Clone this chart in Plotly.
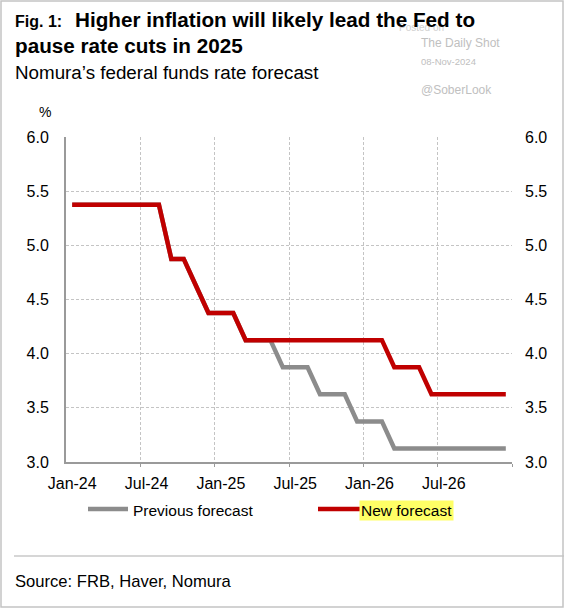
import plotly.graph_objects as go
import pandas as pd

# ---- data ----
months = [d.strftime("%b-%y") for d in pd.date_range("2024-01-01", "2026-12-01", freq="MS")]
previous_forecast = [5.375] * 8 + [4.875, 4.875, 4.625, 4.375, 4.375, 4.375,
                     4.125, 4.125, 4.125, 3.875, 3.875, 3.875,
                     3.625, 3.625, 3.625, 3.375, 3.375, 3.375] + [3.125] * 10
new_forecast = [5.375] * 8 + [4.875, 4.875, 4.625, 4.375, 4.375, 4.375] + [4.125] * 12 + \
               [3.875, 3.875, 3.875] + [3.625] * 7
label_months = ["Jan-24", "Jul-24", "Jan-25", "Jul-25", "Jan-26", "Jul-26"]
y_ticks = [3.0, 3.5, 4.0, 4.5, 5.0, 5.5, 6.0]

W, H = 564, 608
L, R, T, B = 66, 512, 137, 462
FONT = "Liberation Sans, Arial, sans-serif"

def xp(px):
    return (px - L) / (R - L)

def yp(py):
    return (B - py) / (B - T)

xidx = list(range(len(months)))
tickpos = [months.index(m) for m in label_months]
bounds = [p - 0.5 for p in tickpos[1:]] + [len(months) - 0.5]

fig = go.Figure()
fig.add_trace(go.Scatter(x=xidx, y=previous_forecast, mode="lines", name="Previous forecast",
                         line=dict(color="#8c8c8c", width=4.5), showlegend=False))
fig.add_trace(go.Scatter(x=xidx, y=new_forecast, mode="lines", name="New forecast",
                         line=dict(color="#c00000", width=4.5), showlegend=False))
fig.add_trace(go.Scatter(x=[xidx[0]], y=[new_forecast[0]], yaxis="y2", mode="markers",
                         marker=dict(opacity=0), showlegend=False, hoverinfo="skip"))

grid = "#c4c4c4"
axis_col = "#9a9a9a"
fig.update_layout(
    width=W, height=H,
    margin=dict(l=L, r=W - R, t=T, b=H - B),
    paper_bgcolor="white", plot_bgcolor="white",
    font=dict(family=FONT, color="#000000", size=16),
    xaxis=dict(range=[-0.5, len(months) - 0.5], tickmode="array", tickvals=tickpos,
               ticktext=label_months, ticks="", showgrid=False, zeroline=False,
               showline=True, linecolor=axis_col, linewidth=2,
               tickfont=dict(size=16), ticklabelstandoff=6,
               minor=dict(tickmode="array", tickvals=bounds, showgrid=True,
                          gridcolor=grid, griddash="3px,2px", gridwidth=1,
                          ticks="outside", ticklen=3, tickcolor=axis_col)),
    yaxis=dict(range=[3, 6], tickmode="array", tickvals=y_ticks, tickformat=".1f",
               showgrid=True, gridcolor=grid, griddash="3px,2px", gridwidth=1,
               zeroline=False, showline=True, linecolor=axis_col, linewidth=2,
               ticks="", tickfont=dict(size=16), ticklabelstandoff=12),
    yaxis2=dict(range=[3, 6], overlaying="y", side="right", tickmode="array",
                tickvals=y_ticks, tickformat=".1f", showgrid=False, zeroline=False,
                showline=False, ticks="", tickfont=dict(size=16), ticklabelstandoff=12),
)

ann = []
def text(x, y, s, size, color="#000000", bold=False, xanchor="left", bg=None):
    d = dict(x=xp(x), y=yp(y), xref="paper", yref="paper", text=("<b>%s</b>" % s) if bold else s,
             showarrow=False, xanchor=xanchor, yanchor="middle",
             font=dict(family=FONT, size=size, color=color))
    if bg:
        d["bgcolor"] = bg
    ann.append(d)

# watermark (behind title)
text(397, 27, "Posted on", 10, "#d0d0d0")
text(419, 43, "The Daily Shot", 12, "#c0c0c0")
text(419, 61, "08-Nov-2024", 9.5, "#c0c0c0")
text(419, 90, "@SoberLook", 12, "#c0c0c0")
# titles
text(13, 21, "Fig. 1:", 16, bold=True)
text(73, 20, "Higher inflation will likely lead the Fed to", 20.7, bold=True)
text(13, 45, "pause rate cuts in 2025", 20.7, bold=True)
text(13, 73, "Nomura\u2019s federal funds rate forecast", 18.8)
text(45, 112, "%", 14, xanchor="center")
# legend
text(131, 510, "Previous forecast", 15.5)
text(359, 510, "New forecast", 15.5, bg="#ffff66")
# source
text(13, 581, "Source: FRB, Haver, Nomura", 16.6)
fig.update_layout(annotations=ann)

shapes = [
    dict(type="line", xref="paper", yref="paper", x0=xp(88), x1=xp(128), y0=yp(509), y1=yp(509),
         line=dict(color="#8c8c8c", width=4.5)),
    dict(type="line", xref="paper", yref="paper", x0=xp(318), x1=xp(360), y0=yp(509), y1=yp(509),
         line=dict(color="#c00000", width=4.5)),
    dict(type="line", xref="paper", yref="paper", x0=xp(14), x1=xp(564), y0=yp(556), y1=yp(556),
         line=dict(color="#c8c8c8", width=1.5)),
    dict(type="rect", xref="paper", yref="paper", x0=xp(1), x1=xp(563), y0=yp(607), y1=yp(1),
         line=dict(color="#c4c4c4", width=1.5)),
]
fig.update_layout(shapes=shapes)

fig.write_html("out.html", config={"displayModeBar": False},
               post_script="document.body.style.margin='0px';document.body.style.padding='0px';")
